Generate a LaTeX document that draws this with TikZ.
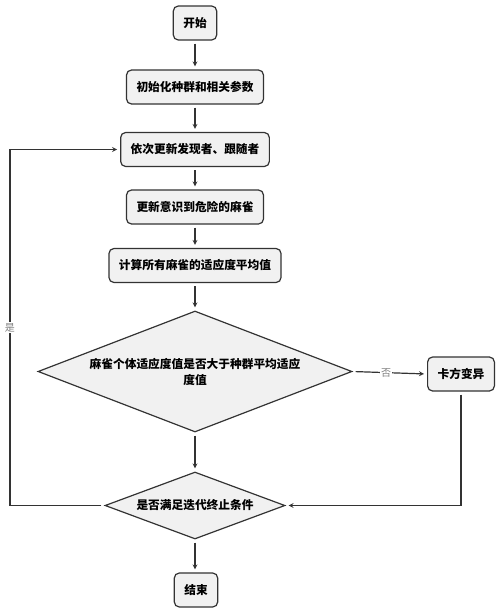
\documentclass[tikz,border=0pt]{standalone}
\usepackage{fontspec}
\setmainfont{Noto Sans CJK SC}
\usepackage{xcolor}
\usetikzlibrary{arrows,calc,shapes.geometric}
\definecolor{edgegray}{HTML}{333333}
\definecolor{boxfill}{HTML}{F1F1F1}
\tikzset{
	procbox/.style={
			draw=edgegray, fill=boxfill, rounded corners=5pt, line width=1.2pt,
			font=\bfseries\fontsize{11.7}{14}\selectfont, inner xsep=10pt, minimum height=34pt
		},
	decision/.style={
			diamond, draw=edgegray, fill=boxfill, line width=1.2pt, inner sep=0pt,
			font=\bfseries\fontsize{11.7}{16}\selectfont, align=center
		},
	flow/.style={draw=edgegray, line width=1.2pt, -stealth, shorten >=3pt, shorten <=3pt},
	tag/.style={fill=white, text=gray, font=\fontsize{10}{11}\selectfont, inner sep=1pt}
}

\begin{document}
\begin{tikzpicture}[x=1pt, y=-1pt]
			\useasboundingbox (0,0) rectangle (500,613);
			% boxes
			\node[procbox] (start) at (195,23) {开始};
			\node[procbox] (init) at (195,87) {初始化种群和相关参数};
			\node[procbox] (update) at (195,149.5) {依次更新发现者、跟随者};
			\node[procbox] (danger) at (195,207) {更新意识到危险的麻雀};
			\node[procbox] (avg) at (195,265.5) {计算所有麻雀的适应度平均值};
			\node[decision, aspect=2.6, minimum width=314pt, minimum height=121pt] (compare) at (195,371.5)
				{麻雀个体适应度值是否大于种群平均适应\\度值};
			\node[procbox] (mutate) at (461,374) {卡方变异};
			\node[decision, aspect=2.69, minimum width=180pt, minimum height=67pt] (iterate) at (195,505.5)
				{是否满足迭代终止条件};
			\node[procbox] (finish) at (196,590) {结束};
			\coordinate (back) at (10,0);

			% connectors
			\draw[flow] (start) -- (init);
			\draw[flow] (init) -- (update);
			\draw[flow] (update) -- (danger);
			\draw[flow] (danger) -- (avg);
			\draw[flow] (avg) -- (compare);
			\draw[flow] (compare.east) -- node[tag, pos=0.45]{否} (mutate.west);
			\draw[flow] (compare.south) -- (iterate.north);
			\draw[flow] (mutate.south) |- (iterate.east);
			\draw[flow] (iterate.west) -- (iterate.west -| back)
				-- node[tag, pos=0.5]{是} (update.west -| back) -- (update.west);
			\draw[flow] (iterate.south) -- (finish.north -| iterate.south);
		\end{tikzpicture}
\end{document}
